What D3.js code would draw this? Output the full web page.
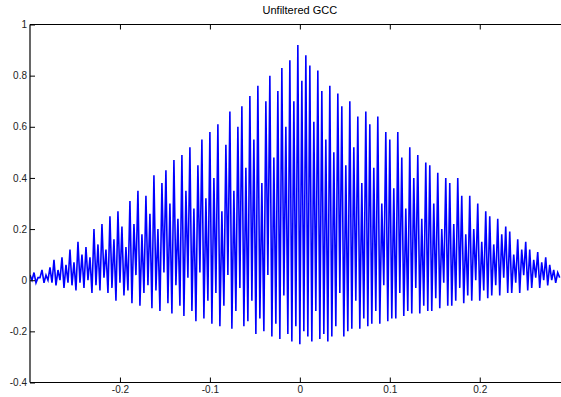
<!DOCTYPE html>
<html>
<head>
<meta charset="utf-8">
<script src="https://cdn.jsdelivr.net/npm/d3@7"></script>
<style>
  html, body { margin: 0; padding: 0; background: #fff; }
  svg { display: block; }
  text { font-family: "Liberation Sans", Arial, Helvetica, sans-serif; }
</style>
</head>
<body>
<svg id="chart" width="561" height="397"></svg>
<script>
// ---- data ----
const chartTitle = "Unfiltered GCC";
const xTicks = [-0.2, -0.1, 0, 0.1, 0.2];
const yTicks = [-0.4, -0.2, 0, 0.2, 0.4, 0.6, 0.8, 1];
const xDomain = [-0.3, 0.3];
const yDomain = [-0.4, 1];
const lagStart = -0.3;      // first lag sample
const lagStep = 0.0022222;  // lag spacing between samples
const gccValues = [
  0.02,0.00, 0.03,-0.01, 0.01,0.01, 0.04,-0.01, 0.02,0.00,
  0.05,-0.01, 0.08,-0.02, 0.04,0.00, 0.09,-0.03, 0.06,-0.01,
  0.12,-0.02, 0.07,-0.04, 0.15,-0.01, 0.10,-0.03, 0.13,0.00,
  0.09,-0.05, 0.20,-0.02, 0.14,-0.04, 0.22,0.01, 0.12,-0.05,
  0.25,-0.03, 0.16,-0.08, 0.27,-0.01, 0.21,-0.06, 0.13,-0.04,
  0.31,-0.09, 0.22,0.02, 0.35,-0.10, 0.18,-0.05, 0.33,-0.02,
  0.26,-0.11, 0.41,-0.04, 0.20,-0.12, 0.38,0.03, 0.43,-0.09,
  0.30,-0.13, 0.47,-0.02, 0.24,-0.10, 0.49,-0.14, 0.35,0.01,
  0.52,-0.12, 0.28,-0.16, 0.45,0.03, 0.55,-0.15, 0.32,-0.08,
  0.58,-0.17, 0.40,-0.05, 0.61,-0.18, 0.27,-0.10, 0.53,0.02,
  0.66,-0.19, 0.35,-0.12, 0.60,-0.03, 0.68,-0.18, 0.44,-0.16,
  0.72,-0.08, 0.55,-0.21, 0.76,-0.15, 0.38,-0.20, 0.70,0.02,
  0.80,-0.22, 0.48,-0.17, 0.74,-0.23, 0.83,-0.06, 0.60,-0.21,
  0.86,-0.24, 0.70,-0.18, 0.92,-0.25, 0.78,-0.20, 0.88,-0.22,
  0.84,-0.24, 0.62,-0.12, 0.82,-0.23, 0.74,-0.21, 0.55,-0.24,
  0.76,-0.22, 0.50,-0.18, 0.73,-0.05, 0.68,-0.22, 0.45,-0.20,
  0.70,-0.19, 0.52,-0.08, 0.64,-0.19, 0.38,-0.15, 0.66,-0.18,
  0.61,-0.17, 0.44,-0.12, 0.64,-0.17, 0.30,-0.02, 0.58,-0.16,
  0.55,-0.15, 0.36,-0.15, 0.58,-0.05, 0.48,-0.14, 0.28,-0.12,
  0.52,-0.13, 0.40,-0.03, 0.49,-0.13, 0.24,-0.10, 0.46,-0.12,
  0.45,-0.12, 0.30,-0.07, 0.42,-0.11, 0.20,-0.01, 0.40,-0.10,
  0.38,-0.10, 0.22,-0.08, 0.40,-0.03, 0.33,-0.09, 0.18,-0.06,
  0.33,-0.08, 0.20,0.00, 0.30,-0.08, 0.15,-0.04, 0.27,-0.07,
  0.25,-0.06, 0.14,-0.02, 0.24,-0.06, 0.18,0.01, 0.21,-0.05,
  0.19,-0.05, 0.10,-0.01, 0.16,-0.05, 0.12,0.02, 0.15,-0.04,
  0.12,-0.03, 0.08,0.01, 0.11,-0.03, 0.07,0.00, 0.09,-0.02,
  0.06,0.00, 0.04,-0.01, 0.03,0.01
];

// ---- layout ----
const svg = d3.select("#chart");
const plot = { left: 30, top: 24.5, right: 569.7, bottom: 382.5 };

const x = d3.scaleLinear().domain(xDomain).range([plot.left, plot.right]);
const y = d3.scaleLinear().domain(yDomain).range([plot.bottom, plot.top]);

const data = gccValues.map((v, i) => ({ lag: lagStart + i * lagStep, v }));

svg.append("defs").append("clipPath").attr("id", "clip")
  .append("rect").attr("x", plot.left).attr("y", plot.top)
  .attr("width", plot.right - plot.left).attr("height", plot.bottom - plot.top);

// signal
svg.append("path")
  .datum(data)
  .attr("clip-path", "url(#clip)")
  .attr("fill", "none")
  .attr("stroke", "#0000ff")
  .attr("stroke-width", 1.6)
  .attr("stroke-linejoin", "miter")
  .attr("d", d3.line().x(d => x(d.lag)).y(d => y(d.v)));

// axes
const tickLen = 5;
const fmt = d => d3.format("")(d).replace("−", "-");
const xAxisBottom = d3.axisBottom(x).tickValues(xTicks).tickSize(-tickLen).tickPadding(3).tickFormat(fmt);
const xAxisTop = d3.axisTop(x).tickValues(xTicks).tickSize(-tickLen).tickFormat("");
const yAxisLeft = d3.axisLeft(y).tickValues(yTicks).tickSize(-tickLen).tickPadding(3).tickFormat(fmt);

function styleAxis(g) {
  g.select(".domain").remove();
  g.selectAll(".tick line").attr("stroke", "#000").attr("stroke-width", 1);
  g.selectAll("text").attr("fill", "#222").style("font-size", "10px");
}

svg.append("g").attr("transform", `translate(0,${plot.bottom})`).call(xAxisBottom).call(styleAxis);
svg.append("g").attr("transform", `translate(0,${plot.top})`).call(xAxisTop).call(styleAxis);
svg.append("g").attr("transform", `translate(${plot.left},0)`).call(yAxisLeft).call(styleAxis);

// box lines
[[plot.left, plot.top, plot.right, plot.top],
 [plot.left, plot.bottom, plot.right, plot.bottom],
 [plot.left, plot.top, plot.left, plot.bottom]].forEach(([x1, y1, x2, y2]) => {
  svg.append("line").attr("x1", x1).attr("y1", y1).attr("x2", x2).attr("y2", y2)
    .attr("stroke", "#000").attr("stroke-width", 1.2);
});

// title
svg.append("text")
  .attr("x", x(0)).attr("y", 14)
  .attr("text-anchor", "middle")
  .attr("fill", "#000")
  .style("font-size", "11px")
  .text(chartTitle);
</script>
</body>
</html>
